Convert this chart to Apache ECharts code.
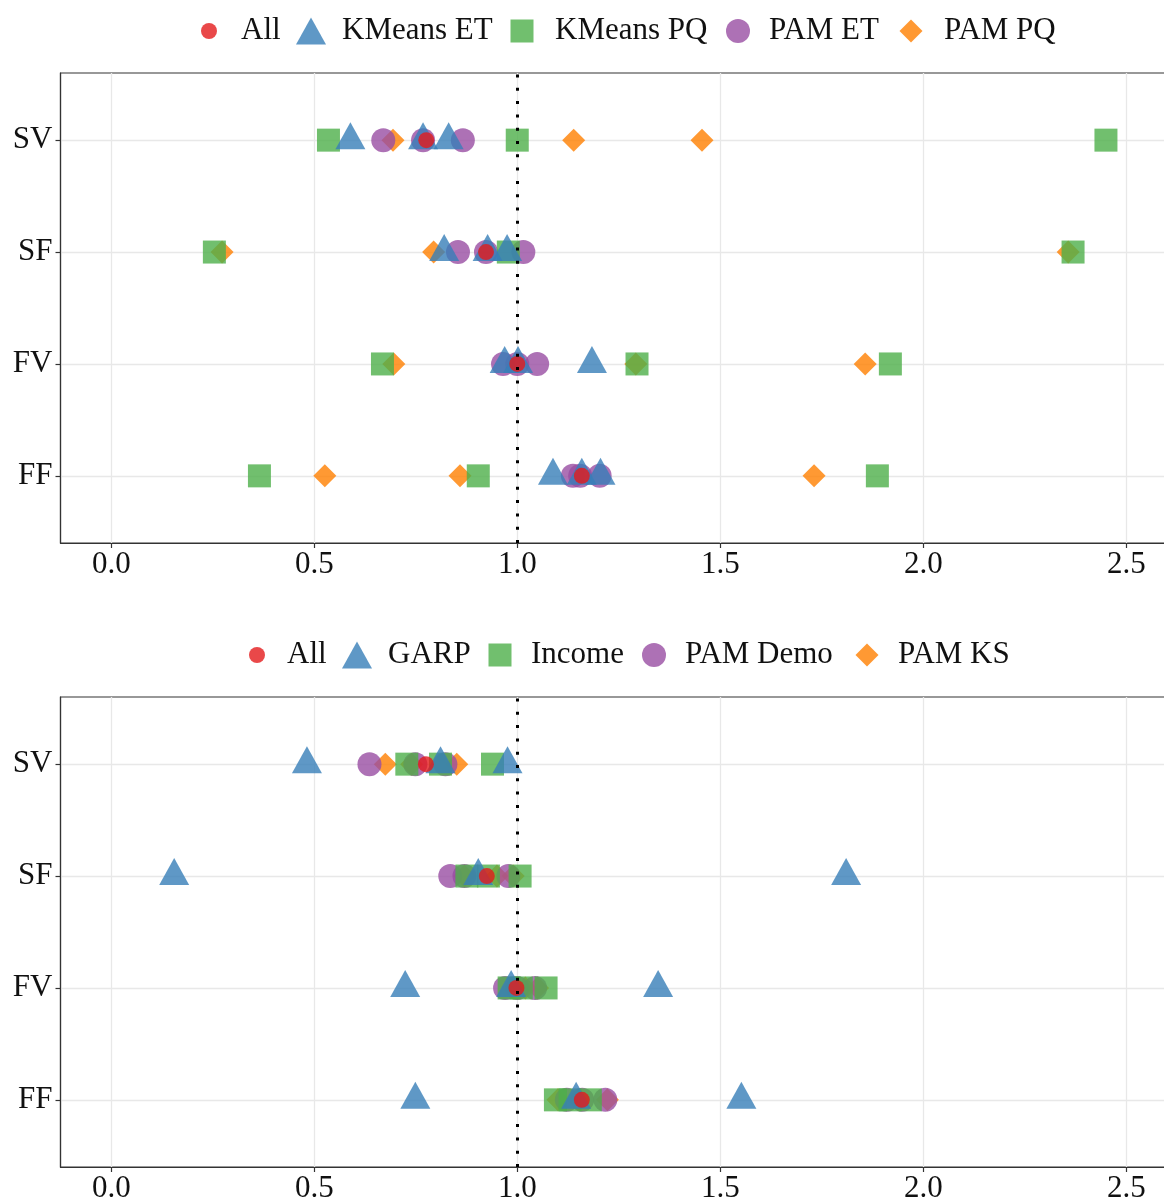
<!DOCTYPE html>
<html>
<head>
<meta charset="utf-8">
<script src="https://cdn.jsdelivr.net/npm/echarts@6/dist/echarts.min.js"></script>
<style>
html,body{margin:0;padding:0;background:#fff;}
#chart{width:1164px;height:1203px;}
</style>
</head>
<body>
<div id="chart"></div>
<script>
// ---- data ----
const rows = ['SV', 'SF', 'FV', 'FF'];
const xTicks = [0, 0.5, 1, 1.5, 2, 2.5];
const refLine = 1;

// top panel (rows: SV, SF, FV, FF)
const topAll    = [0.776, 0.923, 1.0, 1.159];
const kmeansET  = [[0.589, 0.768, 0.831], [0.820, 0.927, 0.975], [0.969, 1.002, 1.184], [1.088, 1.159, 1.205]];
const kmeansPQ  = [[0.535, 1.0, 2.45], [0.254, 0.978, 2.369], [0.668, 1.295, 1.919], [0.365, 0.904, 1.887]];
const pamET     = [[0.670, 0.768, 0.866], [0.854, 0.923, 1.015], [0.965, 1.0, 1.049], [1.137, 1.155, 1.203]];
const pamPQ     = [[0.694, 1.139, 1.455], [0.273, 0.794, 2.357], [0.696, 1.292, 1.857], [0.526, 0.859, 1.731]];

// bottom panel
const botAll    = [0.775, 0.925, 0.998, 1.159];
const garp      = [[0.482, 0.811, 0.976], [0.155, 0.904, 1.810], [0.724, 0.985, 1.347], [0.749, 1.145, 1.552]];
const income    = [[0.728, 0.811, 0.939], [0.876, 0.929, 1.007], [0.980, 1.010, 1.071], [1.094, 1.130, 1.180]];
const pamDemo   = [[0.636, 0.749, 0.823], [0.835, 0.870, 0.978], [0.970, 1.000, 1.044], [1.122, 1.160, 1.217]];
const pamKS     = [[0.675, 0.740, 0.851], [0.870, 0.950, 0.990], [0.990, 1.020, 1.050], [1.100, 1.150, 1.222]];

const topNames = ['All', 'KMeans ET', 'KMeans PQ', 'PAM ET', 'PAM PQ'];
const botNames = ['All', 'GARP', 'Income', 'PAM Demo', 'PAM KS'];

// ---- styles ----
const FONT = 'Liberation Serif';
const COLORS = {
  red: 'rgba(228,26,28,0.8)', blue: 'rgba(55,126,184,0.8)', green: 'rgba(77,175,74,0.8)',
  purple: 'rgba(152,78,163,0.8)', orange: 'rgba(255,127,0,0.8)'
};
const SHAPES = [
  {symbol: 'circle', size: 16, offset: [0, 0], color: COLORS.red},
  {symbol: 'triangle', size: [30, 27], offset: [0, -4.5], color: COLORS.blue},
  {symbol: 'rect', size: 23, offset: [0, 0], color: COLORS.green},
  {symbol: 'circle', size: 24, offset: [0, 0], color: COLORS.purple},
  {symbol: 'diamond', size: 23, offset: [0, 0], color: COLORS.orange}
];

function pts(arr) {
  const out = [];
  rows.forEach((r, i) => {
    const vals = Array.isArray(arr[i]) ? arr[i] : [arr[i]];
    vals.forEach(v => out.push([v, rows.length - i]));
  });
  return out;
}

function mkSeries(name, shapeIdx, data, gi) {
  const s = SHAPES[shapeIdx];
  return {
    type: 'scatter', name: name, xAxisIndex: gi, yAxisIndex: gi,
    symbol: s.symbol, symbolSize: s.size, symbolOffset: s.offset,
    itemStyle: {color: s.color, opacity: 1},
    data: pts(data), emphasis: {disabled: true}, animation: false
  };
}

const panels = [
  {names: topNames, data: [topAll, kmeansET, kmeansPQ, pamET, pamPQ], top: 73,
   legendY: 31, iconX: [209, 311, 522, 738, 911], textX: [241, 342, 555, 769, 944]},
  {names: botNames, data: [botAll, garp, income, pamDemo, pamKS], top: 697,
   legendY: 655, iconX: [257, 357, 500, 654, 867], textX: [287, 388, 531, 685, 898]}
];

const grids = [], xAxes = [], yAxes = [], series = [], legends = [];
panels.forEach((p, gi) => {
  grids.push({left: 60.5, top: p.top, width: 1116.5, height: 470, show: true,
              outerBoundsMode: 'none', containLabel: false,
              borderColor: '#333', borderWidth: 1.2, backgroundColor: 'transparent'});
  xAxes.push({
    type: 'value', gridIndex: gi, min: -0.125, max: 2.625,
    axisLine: {show: true, onZero: false, lineStyle: {color: '#333', width: 1.2}},
    axisTick: {show: true, length: 5, lineStyle: {color: '#333', width: 1.2}, customValues: xTicks},
    axisLabel: {customValues: xTicks, formatter: v => v.toFixed(1), fontFamily: FONT, fontSize: 31,
                color: '#111', margin: 6},
    splitLine: {show: true, lineStyle: {color: '#e8e8e8', width: 1.3}}
  });
  yAxes.push({
    type: 'value', gridIndex: gi, min: 0.4, max: 4.6,
    axisLine: {show: true, onZero: false, lineStyle: {color: '#333', width: 1.2}},
    axisTick: {show: true, length: 5, lineStyle: {color: '#333', width: 1.2}, customValues: [1, 2, 3, 4]},
    axisLabel: {customValues: [1, 2, 3, 4], formatter: v => rows[rows.length - Math.round(v)],
                fontFamily: FONT, fontSize: 31, color: '#111', margin: 8},
    splitLine: {show: true, lineStyle: {color: '#e8e8e8', width: 1.3}}
  });
  // draw order: diamonds, circles, squares, triangles, then All on top
  const order = [4, 3, 2, 1, 0];
  order.forEach(k => {
    const ser = mkSeries(p.names[k], k, p.data[k], gi);
    if (k === 0) {
      ser.markLine = {
        silent: true, symbol: 'none', animation: false,
        label: {show: false},
        lineStyle: {color: '#000', width: 3, type: [3, 10.3], cap: 'butt'},
        data: [{xAxis: refLine}]
      };
    }
    series.push(ser);
  });
  p.names.forEach((nm, k) => {
    const s = SHAPES[k];
    const w = Array.isArray(s.size) ? s.size[0] : s.size;
    const h = Array.isArray(s.size) ? s.size[1] : s.size;
    const pad = p.textX[k] - (p.iconX[k] + w / 2) - 5;
    legends.push({
      data: [nm], left: p.iconX[k] - w / 2, top: p.legendY - 17, padding: 0,
      itemWidth: w, itemHeight: h, selectedMode: false,
      itemStyle: {opacity: 1},
      textStyle: {fontFamily: FONT, fontSize: 31, color: '#111', lineHeight: 34,
                  padding: [0, 0, 0, pad]}
    });
  });
});

const chart = echarts.init(document.getElementById('chart'), null, {renderer: 'canvas'});
chart.setOption({
  backgroundColor: '#fff',
  animation: false,
  grid: grids, xAxis: xAxes, yAxis: yAxes, legend: legends, series: series
});
</script>
</body>
</html>
